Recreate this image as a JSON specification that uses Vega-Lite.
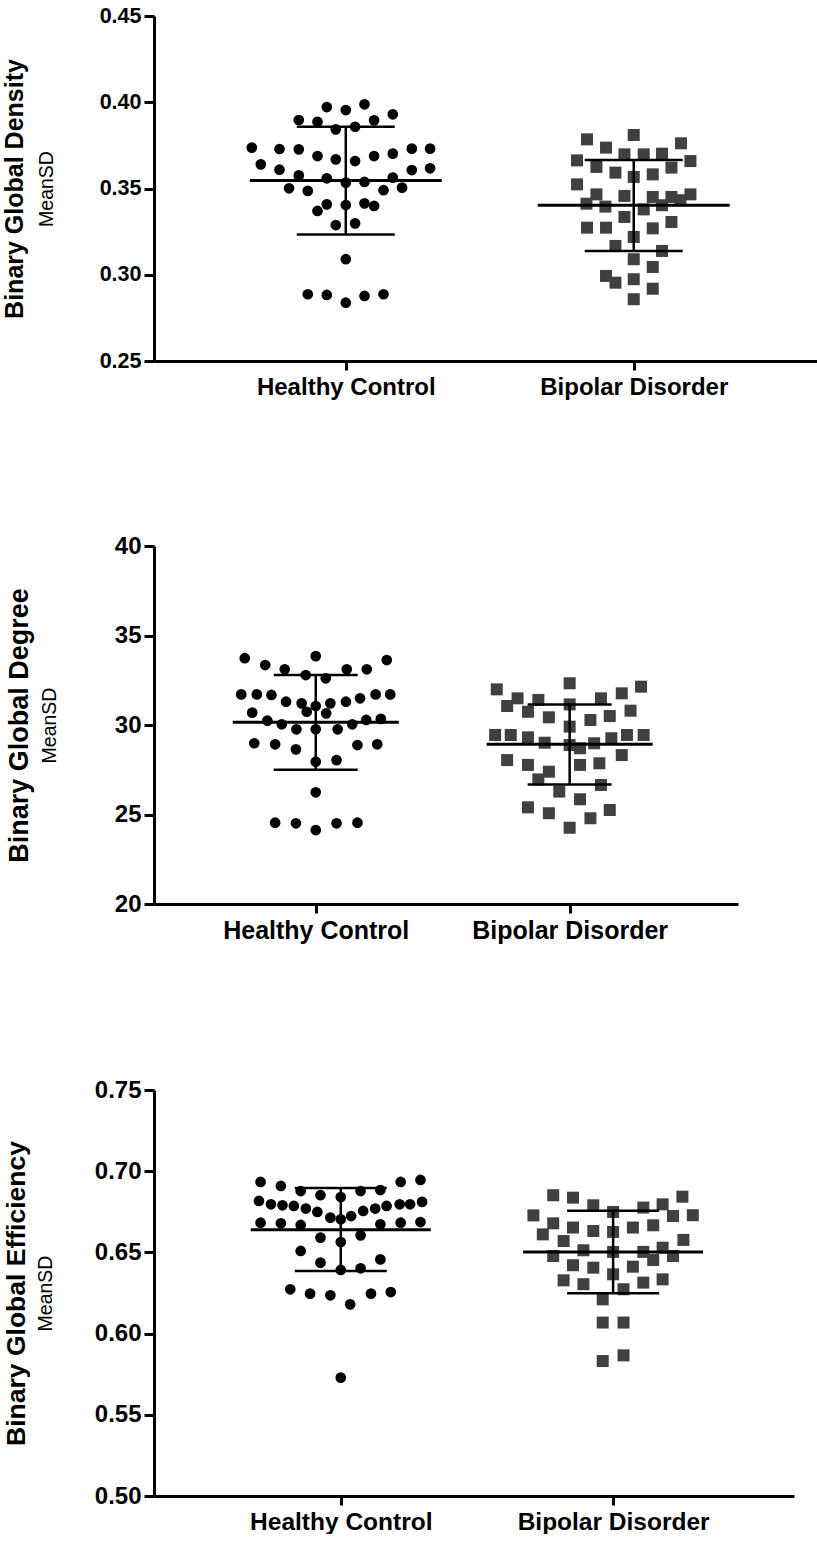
{
"$schema": "https://vega.github.io/schema/vega-lite/v6.json",
"padding": {"left": 2, "top": 5, "right": 0, "bottom": 0},
"config": {
 "view": {"stroke": null},
 "axis": {"domainColor": "black", "tickColor": "black", "labelColor": "black", "titleColor": "black", "grid": false,
  "labelFont": "Liberation Sans", "titleFont": "Liberation Sans", "labelFontWeight": "bold", "titleFontWeight": "bold",
  "domainWidth": 3, "tickWidth": 3, "labelLimit": 0, "titleLimit": 0}
},
"datasets": {
 "pts1": [
  {"group": "Healthy Control", "swarm": -19, "value": 0.3972},
  {"group": "Healthy Control", "swarm": 0, "value": 0.3955},
  {"group": "Healthy Control", "swarm": 18.7, "value": 0.3988},
  {"group": "Healthy Control", "swarm": -47, "value": 0.3897},
  {"group": "Healthy Control", "swarm": -28.3, "value": 0.3887},
  {"group": "Healthy Control", "swarm": 28.3, "value": 0.3895},
  {"group": "Healthy Control", "swarm": 47, "value": 0.3930},
  {"group": "Healthy Control", "swarm": -10, "value": 0.3843},
  {"group": "Healthy Control", "swarm": 9.3, "value": 0.3858},
  {"group": "Healthy Control", "swarm": -94, "value": 0.3737},
  {"group": "Healthy Control", "swarm": -66.3, "value": 0.3729},
  {"group": "Healthy Control", "swarm": -47, "value": 0.3727},
  {"group": "Healthy Control", "swarm": -28.3, "value": 0.3688},
  {"group": "Healthy Control", "swarm": -10, "value": 0.3669},
  {"group": "Healthy Control", "swarm": 9.3, "value": 0.3659},
  {"group": "Healthy Control", "swarm": 28.3, "value": 0.3688},
  {"group": "Healthy Control", "swarm": 47, "value": 0.3702},
  {"group": "Healthy Control", "swarm": 66, "value": 0.3731},
  {"group": "Healthy Control", "swarm": 84.3, "value": 0.3731},
  {"group": "Healthy Control", "swarm": -85, "value": 0.3640},
  {"group": "Healthy Control", "swarm": -66.3, "value": 0.3609},
  {"group": "Healthy Control", "swarm": -47, "value": 0.3576},
  {"group": "Healthy Control", "swarm": -19, "value": 0.3559},
  {"group": "Healthy Control", "swarm": 0, "value": 0.3534},
  {"group": "Healthy Control", "swarm": 18.7, "value": 0.3538},
  {"group": "Healthy Control", "swarm": 47, "value": 0.3563},
  {"group": "Healthy Control", "swarm": 66, "value": 0.3607},
  {"group": "Healthy Control", "swarm": 84.3, "value": 0.3617},
  {"group": "Healthy Control", "swarm": -56.7, "value": 0.3501},
  {"group": "Healthy Control", "swarm": -38, "value": 0.3486},
  {"group": "Healthy Control", "swarm": 37.7, "value": 0.3490},
  {"group": "Healthy Control", "swarm": 56.3, "value": 0.3505},
  {"group": "Healthy Control", "swarm": -19, "value": 0.3408},
  {"group": "Healthy Control", "swarm": -28.3, "value": 0.3370},
  {"group": "Healthy Control", "swarm": 0, "value": 0.3404},
  {"group": "Healthy Control", "swarm": 18.7, "value": 0.3414},
  {"group": "Healthy Control", "swarm": 28.3, "value": 0.3399},
  {"group": "Healthy Control", "swarm": -10, "value": 0.3288},
  {"group": "Healthy Control", "swarm": 9.3, "value": 0.3298},
  {"group": "Healthy Control", "swarm": 0, "value": 0.3090},
  {"group": "Healthy Control", "swarm": -38, "value": 0.2887},
  {"group": "Healthy Control", "swarm": -19, "value": 0.2883},
  {"group": "Healthy Control", "swarm": 0, "value": 0.2838},
  {"group": "Healthy Control", "swarm": 18.7, "value": 0.2877},
  {"group": "Healthy Control", "swarm": 37.7, "value": 0.2887},
  {"group": "Bipolar Disorder", "swarm": -46.7, "value": 0.3785},
  {"group": "Bipolar Disorder", "swarm": 0, "value": 0.3810},
  {"group": "Bipolar Disorder", "swarm": 47.3, "value": 0.3762},
  {"group": "Bipolar Disorder", "swarm": -27.7, "value": 0.3737},
  {"group": "Bipolar Disorder", "swarm": -56.7, "value": 0.3663},
  {"group": "Bipolar Disorder", "swarm": -9.3, "value": 0.3698},
  {"group": "Bipolar Disorder", "swarm": 10, "value": 0.3698},
  {"group": "Bipolar Disorder", "swarm": 28.3, "value": 0.3702},
  {"group": "Bipolar Disorder", "swarm": 56.7, "value": 0.3659},
  {"group": "Bipolar Disorder", "swarm": -37.3, "value": 0.3625},
  {"group": "Bipolar Disorder", "swarm": -18.3, "value": 0.3592},
  {"group": "Bipolar Disorder", "swarm": 0, "value": 0.3567},
  {"group": "Bipolar Disorder", "swarm": 19, "value": 0.3582},
  {"group": "Bipolar Disorder", "swarm": 37.7, "value": 0.3621},
  {"group": "Bipolar Disorder", "swarm": -56.7, "value": 0.3524},
  {"group": "Bipolar Disorder", "swarm": -37.3, "value": 0.3466},
  {"group": "Bipolar Disorder", "swarm": -9.3, "value": 0.3457},
  {"group": "Bipolar Disorder", "swarm": 19, "value": 0.3451},
  {"group": "Bipolar Disorder", "swarm": 37.7, "value": 0.3451},
  {"group": "Bipolar Disorder", "swarm": 56.7, "value": 0.3466},
  {"group": "Bipolar Disorder", "swarm": -47.3, "value": 0.3412},
  {"group": "Bipolar Disorder", "swarm": -28.3, "value": 0.3395},
  {"group": "Bipolar Disorder", "swarm": 10, "value": 0.3379},
  {"group": "Bipolar Disorder", "swarm": 28.3, "value": 0.3403},
  {"group": "Bipolar Disorder", "swarm": 46.7, "value": 0.3432},
  {"group": "Bipolar Disorder", "swarm": -9.3, "value": 0.3335},
  {"group": "Bipolar Disorder", "swarm": -46.7, "value": 0.3273},
  {"group": "Bipolar Disorder", "swarm": -27.7, "value": 0.3273},
  {"group": "Bipolar Disorder", "swarm": 19, "value": 0.3269},
  {"group": "Bipolar Disorder", "swarm": 37.7, "value": 0.3306},
  {"group": "Bipolar Disorder", "swarm": 0, "value": 0.3219},
  {"group": "Bipolar Disorder", "swarm": -18.3, "value": 0.3167},
  {"group": "Bipolar Disorder", "swarm": 28.3, "value": 0.3138},
  {"group": "Bipolar Disorder", "swarm": 0, "value": 0.3090},
  {"group": "Bipolar Disorder", "swarm": 19, "value": 0.3045},
  {"group": "Bipolar Disorder", "swarm": -27.7, "value": 0.2993},
  {"group": "Bipolar Disorder", "swarm": -18.3, "value": 0.2954},
  {"group": "Bipolar Disorder", "swarm": 0, "value": 0.2974},
  {"group": "Bipolar Disorder", "swarm": 19, "value": 0.2919},
  {"group": "Bipolar Disorder", "swarm": 0, "value": 0.2858}
 ],
 "st1": [
  {"group": "Healthy Control", "mean": 0.3547, "lo": 0.3234, "hi": 0.3858},
  {"group": "Bipolar Disorder", "mean": 0.3403, "lo": 0.3138, "hi": 0.3665}
 ],
 "pts2": [
  {"group": "Healthy Control", "swarm": -71, "value": 33.73},
  {"group": "Healthy Control", "swarm": -50.5, "value": 33.35},
  {"group": "Healthy Control", "swarm": -31, "value": 33.11},
  {"group": "Healthy Control", "swarm": 0, "value": 33.85},
  {"group": "Healthy Control", "swarm": 31, "value": 33.11},
  {"group": "Healthy Control", "swarm": 51, "value": 33.11},
  {"group": "Healthy Control", "swarm": 71, "value": 33.63},
  {"group": "Healthy Control", "swarm": -10, "value": 32.79},
  {"group": "Healthy Control", "swarm": 10, "value": 32.61},
  {"group": "Healthy Control", "swarm": -74.5, "value": 31.71},
  {"group": "Healthy Control", "swarm": -58.9, "value": 31.71},
  {"group": "Healthy Control", "swarm": -44.3, "value": 31.68},
  {"group": "Healthy Control", "swarm": -29.7, "value": 31.30},
  {"group": "Healthy Control", "swarm": -14.1, "value": 31.21},
  {"group": "Healthy Control", "swarm": 14.6, "value": 31.21},
  {"group": "Healthy Control", "swarm": 30.2, "value": 31.30},
  {"group": "Healthy Control", "swarm": 44.3, "value": 31.49},
  {"group": "Healthy Control", "swarm": 59.9, "value": 31.71},
  {"group": "Healthy Control", "swarm": 74.5, "value": 31.71},
  {"group": "Healthy Control", "swarm": -63.5, "value": 30.69},
  {"group": "Healthy Control", "swarm": -9, "value": 30.74},
  {"group": "Healthy Control", "swarm": 10.4, "value": 30.65},
  {"group": "Healthy Control", "swarm": 0, "value": 31.06},
  {"group": "Healthy Control", "swarm": -48.4, "value": 30.24},
  {"group": "Healthy Control", "swarm": 50.5, "value": 30.28},
  {"group": "Healthy Control", "swarm": 65.1, "value": 30.34},
  {"group": "Healthy Control", "swarm": -33.9, "value": 30.04},
  {"group": "Healthy Control", "swarm": 36.5, "value": 30.04},
  {"group": "Healthy Control", "swarm": -19.3, "value": 29.76},
  {"group": "Healthy Control", "swarm": 0, "value": 29.76},
  {"group": "Healthy Control", "swarm": 21.9, "value": 29.76},
  {"group": "Healthy Control", "swarm": -61.5, "value": 28.98},
  {"group": "Healthy Control", "swarm": -40.6, "value": 28.92},
  {"group": "Healthy Control", "swarm": -19.8, "value": 28.64},
  {"group": "Healthy Control", "swarm": 41.7, "value": 28.88},
  {"group": "Healthy Control", "swarm": 61.5, "value": 28.92},
  {"group": "Healthy Control", "swarm": 0, "value": 27.95},
  {"group": "Healthy Control", "swarm": 20.8, "value": 28.04},
  {"group": "Healthy Control", "swarm": 0, "value": 26.24},
  {"group": "Healthy Control", "swarm": -40.6, "value": 24.54},
  {"group": "Healthy Control", "swarm": -19.8, "value": 24.51},
  {"group": "Healthy Control", "swarm": 0, "value": 24.13},
  {"group": "Healthy Control", "swarm": 20.8, "value": 24.51},
  {"group": "Healthy Control", "swarm": 41.7, "value": 24.54},
  {"group": "Bipolar Disorder", "swarm": -72.9, "value": 31.99},
  {"group": "Bipolar Disorder", "swarm": -52.1, "value": 31.49},
  {"group": "Bipolar Disorder", "swarm": -31.3, "value": 31.40},
  {"group": "Bipolar Disorder", "swarm": 0, "value": 32.33},
  {"group": "Bipolar Disorder", "swarm": 31.3, "value": 31.49},
  {"group": "Bipolar Disorder", "swarm": 52.1, "value": 31.77},
  {"group": "Bipolar Disorder", "swarm": 71.4, "value": 32.14},
  {"group": "Bipolar Disorder", "swarm": -62.5, "value": 31.06},
  {"group": "Bipolar Disorder", "swarm": -41.7, "value": 30.74},
  {"group": "Bipolar Disorder", "swarm": -20.8, "value": 30.43},
  {"group": "Bipolar Disorder", "swarm": 0, "value": 31.15},
  {"group": "Bipolar Disorder", "swarm": 20.8, "value": 30.28},
  {"group": "Bipolar Disorder", "swarm": 40.1, "value": 30.50},
  {"group": "Bipolar Disorder", "swarm": 60.9, "value": 30.80},
  {"group": "Bipolar Disorder", "swarm": -74.5, "value": 29.44},
  {"group": "Bipolar Disorder", "swarm": -58.9, "value": 29.44},
  {"group": "Bipolar Disorder", "swarm": -41.7, "value": 29.31},
  {"group": "Bipolar Disorder", "swarm": -25, "value": 29.01},
  {"group": "Bipolar Disorder", "swarm": 0, "value": 29.91},
  {"group": "Bipolar Disorder", "swarm": 0, "value": 28.88},
  {"group": "Bipolar Disorder", "swarm": 10.4, "value": 28.70},
  {"group": "Bipolar Disorder", "swarm": 24.5, "value": 28.98},
  {"group": "Bipolar Disorder", "swarm": 41.7, "value": 29.26},
  {"group": "Bipolar Disorder", "swarm": 57.3, "value": 29.44},
  {"group": "Bipolar Disorder", "swarm": 74, "value": 29.44},
  {"group": "Bipolar Disorder", "swarm": -62.5, "value": 28.04},
  {"group": "Bipolar Disorder", "swarm": -41.7, "value": 27.77},
  {"group": "Bipolar Disorder", "swarm": -20.8, "value": 27.39},
  {"group": "Bipolar Disorder", "swarm": 10.4, "value": 27.77},
  {"group": "Bipolar Disorder", "swarm": 29.7, "value": 27.86},
  {"group": "Bipolar Disorder", "swarm": 52.1, "value": 28.32},
  {"group": "Bipolar Disorder", "swarm": -31.3, "value": 26.96},
  {"group": "Bipolar Disorder", "swarm": -10.4, "value": 26.28},
  {"group": "Bipolar Disorder", "swarm": 31.3, "value": 26.65},
  {"group": "Bipolar Disorder", "swarm": -41.7, "value": 25.40},
  {"group": "Bipolar Disorder", "swarm": -20.8, "value": 25.07},
  {"group": "Bipolar Disorder", "swarm": 10.4, "value": 25.85},
  {"group": "Bipolar Disorder", "swarm": 20.8, "value": 24.79},
  {"group": "Bipolar Disorder", "swarm": 40.1, "value": 25.25},
  {"group": "Bipolar Disorder", "swarm": 0, "value": 24.26}
 ],
 "st2": [
  {"group": "Healthy Control", "mean": 30.15, "lo": 27.50, "hi": 32.80},
  {"group": "Bipolar Disorder", "mean": 28.93, "lo": 26.67, "hi": 31.15}
 ],
 "pts3": [
  {"group": "Healthy Control", "swarm": -80.2, "value": 0.6934},
  {"group": "Healthy Control", "swarm": -59.9, "value": 0.6909},
  {"group": "Healthy Control", "swarm": -40.1, "value": 0.6878},
  {"group": "Healthy Control", "swarm": -20.3, "value": 0.6852},
  {"group": "Healthy Control", "swarm": 0, "value": 0.6841},
  {"group": "Healthy Control", "swarm": 19.8, "value": 0.6878},
  {"group": "Healthy Control", "swarm": 39.6, "value": 0.6884},
  {"group": "Healthy Control", "swarm": 59.9, "value": 0.6934},
  {"group": "Healthy Control", "swarm": 79.7, "value": 0.6946},
  {"group": "Healthy Control", "swarm": -81.8, "value": 0.6817},
  {"group": "Healthy Control", "swarm": -69.8, "value": 0.6796},
  {"group": "Healthy Control", "swarm": -58.3, "value": 0.6790},
  {"group": "Healthy Control", "swarm": -46.9, "value": 0.6786},
  {"group": "Healthy Control", "swarm": -34.9, "value": 0.6770},
  {"group": "Healthy Control", "swarm": -23.4, "value": 0.6749},
  {"group": "Healthy Control", "swarm": -10.4, "value": 0.6714},
  {"group": "Healthy Control", "swarm": 0, "value": 0.6704},
  {"group": "Healthy Control", "swarm": 10.4, "value": 0.6724},
  {"group": "Healthy Control", "swarm": 22.4, "value": 0.6755},
  {"group": "Healthy Control", "swarm": 34.4, "value": 0.6770},
  {"group": "Healthy Control", "swarm": 45.8, "value": 0.6786},
  {"group": "Healthy Control", "swarm": 58.9, "value": 0.6796},
  {"group": "Healthy Control", "swarm": 69.3, "value": 0.6796},
  {"group": "Healthy Control", "swarm": 81.3, "value": 0.6811},
  {"group": "Healthy Control", "swarm": -80.2, "value": 0.6683},
  {"group": "Healthy Control", "swarm": -59.9, "value": 0.6679},
  {"group": "Healthy Control", "swarm": -40.1, "value": 0.6669},
  {"group": "Healthy Control", "swarm": 39.6, "value": 0.6673},
  {"group": "Healthy Control", "swarm": 59.9, "value": 0.6683},
  {"group": "Healthy Control", "swarm": 79.7, "value": 0.6687},
  {"group": "Healthy Control", "swarm": -20.3, "value": 0.6591},
  {"group": "Healthy Control", "swarm": 0, "value": 0.6564},
  {"group": "Healthy Control", "swarm": 19.8, "value": 0.6605},
  {"group": "Healthy Control", "swarm": -40.1, "value": 0.6509},
  {"group": "Healthy Control", "swarm": 39.6, "value": 0.6457},
  {"group": "Healthy Control", "swarm": -20.3, "value": 0.6437},
  {"group": "Healthy Control", "swarm": 0, "value": 0.6392},
  {"group": "Healthy Control", "swarm": 19.8, "value": 0.6402},
  {"group": "Healthy Control", "swarm": -50.5, "value": 0.6273},
  {"group": "Healthy Control", "swarm": -30.7, "value": 0.6246},
  {"group": "Healthy Control", "swarm": -10.4, "value": 0.6236},
  {"group": "Healthy Control", "swarm": 9.4, "value": 0.6180},
  {"group": "Healthy Control", "swarm": 30.2, "value": 0.6246},
  {"group": "Healthy Control", "swarm": 50, "value": 0.6256},
  {"group": "Healthy Control", "swarm": 0, "value": 0.5729},
  {"group": "Bipolar Disorder", "swarm": -59.9, "value": 0.6852},
  {"group": "Bipolar Disorder", "swarm": -40.1, "value": 0.6837},
  {"group": "Bipolar Disorder", "swarm": -19.8, "value": 0.6790},
  {"group": "Bipolar Disorder", "swarm": 0, "value": 0.6749},
  {"group": "Bipolar Disorder", "swarm": 30.2, "value": 0.6776},
  {"group": "Bipolar Disorder", "swarm": 49.5, "value": 0.6796},
  {"group": "Bipolar Disorder", "swarm": 69.3, "value": 0.6843},
  {"group": "Bipolar Disorder", "swarm": -79.7, "value": 0.6728},
  {"group": "Bipolar Disorder", "swarm": 59.9, "value": 0.6724},
  {"group": "Bipolar Disorder", "swarm": 79.7, "value": 0.6729},
  {"group": "Bipolar Disorder", "swarm": -59.9, "value": 0.6679},
  {"group": "Bipolar Disorder", "swarm": -40.1, "value": 0.6653},
  {"group": "Bipolar Disorder", "swarm": -19.8, "value": 0.6632},
  {"group": "Bipolar Disorder", "swarm": 0, "value": 0.6626},
  {"group": "Bipolar Disorder", "swarm": 19.8, "value": 0.6653},
  {"group": "Bipolar Disorder", "swarm": 40.1, "value": 0.6667},
  {"group": "Bipolar Disorder", "swarm": -70.3, "value": 0.6611},
  {"group": "Bipolar Disorder", "swarm": -49.5, "value": 0.6570},
  {"group": "Bipolar Disorder", "swarm": 70.3, "value": 0.6577},
  {"group": "Bipolar Disorder", "swarm": -59.9, "value": 0.6478},
  {"group": "Bipolar Disorder", "swarm": -29.7, "value": 0.6513},
  {"group": "Bipolar Disorder", "swarm": 0, "value": 0.6503},
  {"group": "Bipolar Disorder", "swarm": 30.2, "value": 0.6503},
  {"group": "Bipolar Disorder", "swarm": 49.5, "value": 0.6529},
  {"group": "Bipolar Disorder", "swarm": 59.9, "value": 0.6478},
  {"group": "Bipolar Disorder", "swarm": 40.1, "value": 0.6453},
  {"group": "Bipolar Disorder", "swarm": -40.1, "value": 0.6421},
  {"group": "Bipolar Disorder", "swarm": -19.8, "value": 0.6406},
  {"group": "Bipolar Disorder", "swarm": 0, "value": 0.6365},
  {"group": "Bipolar Disorder", "swarm": 19.8, "value": 0.6412},
  {"group": "Bipolar Disorder", "swarm": -49.5, "value": 0.6328},
  {"group": "Bipolar Disorder", "swarm": -29.7, "value": 0.6304},
  {"group": "Bipolar Disorder", "swarm": 30.2, "value": 0.6314},
  {"group": "Bipolar Disorder", "swarm": 49.5, "value": 0.6334},
  {"group": "Bipolar Disorder", "swarm": 10.4, "value": 0.6273},
  {"group": "Bipolar Disorder", "swarm": -10.4, "value": 0.6211},
  {"group": "Bipolar Disorder", "swarm": -10.4, "value": 0.6068},
  {"group": "Bipolar Disorder", "swarm": 10.4, "value": 0.6068},
  {"group": "Bipolar Disorder", "swarm": -10.4, "value": 0.5831},
  {"group": "Bipolar Disorder", "swarm": 10.4, "value": 0.5866}
 ],
 "st3": [
  {"group": "Healthy Control", "mean": 0.6640, "lo": 0.6385, "hi": 0.6897},
  {"group": "Bipolar Disorder", "mean": 0.6503, "lo": 0.6249, "hi": 0.6757}
 ]
},
"concat": [
 {
  "width": 664, "height": 345,
  "layer": [
   {"data": {"name": "pts1"},
    "mark": {"type": "point", "filled": true, "opacity": 1, "strokeWidth": 0},
    "encoding": {
     "x": {"field": "group", "type": "nominal", "sort": null, "scale": {"type": "point", "domain": ["Healthy Control", "Bipolar Disorder"], "padding": 0.653, "align": 0.51},
       "axis": {"title": null, "labelAngle": 0, "labelFontSize": 24, "labelPadding": 5, "tickSize": 9}},
     "xOffset": {"field": "swarm", "type": "quantitative", "scale": {"domain": [-100, 100], "range": [-100, 100]}},
     "y": {"field": "value", "type": "quantitative", "scale": {"domain": [0.25, 0.45], "nice": false, "zero": false},
       "axis": {"title": "Binary Global Density", "values": [0.25, 0.3, 0.35, 0.4, 0.45], "format": ".2f", "labelFontSize": 21.5, "labelPadding": 3, "tickSize": 10, "titleFontSize": 25, "titlePadding": 72}},
     "shape": {"field": "group", "type": "nominal", "scale": {"domain": ["Healthy Control", "Bipolar Disorder"], "range": ["circle", "square"]}, "legend": null},
     "color": {"field": "group", "type": "nominal", "scale": {"domain": ["Healthy Control", "Bipolar Disorder"], "range": ["#000000", "#404040"]}, "legend": null},
     "size": {"field": "group", "type": "nominal", "scale": {"domain": ["Healthy Control", "Bipolar Disorder"], "range": [115, 144]}, "legend": null}
    }},
   {"data": {"name": "st1"},
    "mark": {"type": "tick", "size": 192, "thickness": 3, "color": "black", "opacity": 1},
    "encoding": {"x": {"field": "group", "type": "nominal", "sort": null}, "y": {"field": "mean", "type": "quantitative", "scale": {"domain": [0.25, 0.45], "nice": false, "zero": false}, "axis": null}}},
   {"data": {"name": "st1"},
    "mark": {"type": "tick", "size": 98, "thickness": 2.5, "color": "black", "opacity": 1},
    "encoding": {"x": {"field": "group", "type": "nominal", "sort": null}, "y": {"field": "lo", "type": "quantitative", "scale": {"domain": [0.25, 0.45], "nice": false, "zero": false}, "axis": null}}},
   {"data": {"name": "st1"},
    "mark": {"type": "tick", "size": 98, "thickness": 2.5, "color": "black", "opacity": 1},
    "encoding": {"x": {"field": "group", "type": "nominal", "sort": null}, "y": {"field": "hi", "type": "quantitative", "scale": {"domain": [0.25, 0.45], "nice": false, "zero": false}, "axis": null}}},
   {"data": {"name": "st1"},
    "mark": {"type": "rule", "strokeWidth": 2.5, "color": "black"},
    "encoding": {"x": {"field": "group", "type": "nominal", "sort": null},
     "y": {"field": "lo", "type": "quantitative", "scale": {"domain": [0.25, 0.45], "nice": false, "zero": false},
       "axis": {"orient": "left", "title": "MeanSD", "labels": false, "ticks": false, "domain": false, "tickSize": 0, "labelPadding": 0, "titleFontSize": 19.5, "titleFontWeight": "normal", "titlePadding": 98}},
     "y2": {"field": "hi"}}}
  ],
  "resolve": {"axis": {"y": "independent"}}
 },
 {
  "width": 584, "height": 358,
  "layer": [
   {"data": {"name": "pts2"},
    "mark": {"type": "point", "filled": true, "opacity": 1, "strokeWidth": 0},
    "encoding": {
     "x": {"field": "group", "type": "nominal", "sort": null, "scale": {"type": "point", "domain": ["Healthy Control", "Bipolar Disorder"], "padding": 0.65, "align": 0.49},
       "axis": {"title": null, "labelAngle": 0, "labelFontSize": 25, "labelPadding": 5, "tickSize": 9}},
     "xOffset": {"field": "swarm", "type": "quantitative", "scale": {"domain": [-100, 100], "range": [-100, 100]}},
     "y": {"field": "value", "type": "quantitative", "scale": {"domain": [20, 40], "nice": false, "zero": false},
       "axis": {"title": "Binary Global Degree", "values": [20, 25, 30, 35, 40], "labelFontSize": 24, "labelPadding": 3, "tickSize": 10, "titleFontSize": 27, "titlePadding": 81}},
     "shape": {"field": "group", "type": "nominal", "scale": {"domain": ["Healthy Control", "Bipolar Disorder"], "range": ["circle", "square"]}, "legend": null},
     "color": {"field": "group", "type": "nominal", "scale": {"domain": ["Healthy Control", "Bipolar Disorder"], "range": ["#000000", "#404040"]}, "legend": null},
     "size": {"field": "group", "type": "nominal", "scale": {"domain": ["Healthy Control", "Bipolar Disorder"], "range": [125, 160]}, "legend": null}
    }},
   {"data": {"name": "st2"},
    "mark": {"type": "tick", "size": 166, "thickness": 3, "color": "black", "opacity": 1},
    "encoding": {"x": {"field": "group", "type": "nominal", "sort": null}, "y": {"field": "mean", "type": "quantitative", "scale": {"domain": [20, 40], "nice": false, "zero": false}, "axis": null}}},
   {"data": {"name": "st2"},
    "mark": {"type": "tick", "size": 84, "thickness": 2.5, "color": "black", "opacity": 1},
    "encoding": {"x": {"field": "group", "type": "nominal", "sort": null}, "y": {"field": "lo", "type": "quantitative", "scale": {"domain": [20, 40], "nice": false, "zero": false}, "axis": null}}},
   {"data": {"name": "st2"},
    "mark": {"type": "tick", "size": 84, "thickness": 2.5, "color": "black", "opacity": 1},
    "encoding": {"x": {"field": "group", "type": "nominal", "sort": null}, "y": {"field": "hi", "type": "quantitative", "scale": {"domain": [20, 40], "nice": false, "zero": false}, "axis": null}}},
   {"data": {"name": "st2"},
    "mark": {"type": "rule", "strokeWidth": 2.5, "color": "black"},
    "encoding": {"x": {"field": "group", "type": "nominal", "sort": null},
     "y": {"field": "lo", "type": "quantitative", "scale": {"domain": [20, 40], "nice": false, "zero": false},
       "axis": {"orient": "left", "title": "MeanSD", "labels": false, "ticks": false, "domain": false, "tickSize": 0, "labelPadding": 0, "titleFontSize": 19.5, "titleFontWeight": "normal", "titlePadding": 95}},
     "y2": {"field": "hi"}}}
  ],
  "resolve": {"axis": {"y": "independent"}}
 },
 {
  "width": 640, "height": 406,
  "layer": [
   {"data": {"name": "pts3"},
    "mark": {"type": "point", "filled": true, "opacity": 1, "strokeWidth": 0},
    "encoding": {
     "x": {"field": "group", "type": "nominal", "sort": null, "scale": {"type": "point", "domain": ["Healthy Control", "Bipolar Disorder"], "padding": 0.675, "align": 0.508},
       "axis": {"title": null, "labelAngle": 0, "labelFontSize": 24.5, "labelPadding": 5, "tickSize": 9}},
     "xOffset": {"field": "swarm", "type": "quantitative", "scale": {"domain": [-100, 100], "range": [-100, 100]}},
     "y": {"field": "value", "type": "quantitative", "scale": {"domain": [0.5, 0.75], "nice": false, "zero": false},
       "axis": {"title": "Binary Global Efficiency", "values": [0.5, 0.55, 0.6, 0.65, 0.7, 0.75], "format": ".2f", "labelFontSize": 24, "labelPadding": 3, "tickSize": 10, "titleFontSize": 26.5, "titlePadding": 64}},
     "shape": {"field": "group", "type": "nominal", "scale": {"domain": ["Healthy Control", "Bipolar Disorder"], "range": ["circle", "square"]}, "legend": null},
     "color": {"field": "group", "type": "nominal", "scale": {"domain": ["Healthy Control", "Bipolar Disorder"], "range": ["#000000", "#404040"]}, "legend": null},
     "size": {"field": "group", "type": "nominal", "scale": {"domain": ["Healthy Control", "Bipolar Disorder"], "range": [130, 160]}, "legend": null}
    }},
   {"data": {"name": "st3"},
    "mark": {"type": "tick", "size": 180, "thickness": 3, "color": "black", "opacity": 1},
    "encoding": {"x": {"field": "group", "type": "nominal", "sort": null}, "y": {"field": "mean", "type": "quantitative", "scale": {"domain": [0.5, 0.75], "nice": false, "zero": false}, "axis": null}}},
   {"data": {"name": "st3"},
    "mark": {"type": "tick", "size": 92, "thickness": 2.5, "color": "black", "opacity": 1},
    "encoding": {"x": {"field": "group", "type": "nominal", "sort": null}, "y": {"field": "lo", "type": "quantitative", "scale": {"domain": [0.5, 0.75], "nice": false, "zero": false}, "axis": null}}},
   {"data": {"name": "st3"},
    "mark": {"type": "tick", "size": 92, "thickness": 2.5, "color": "black", "opacity": 1},
    "encoding": {"x": {"field": "group", "type": "nominal", "sort": null}, "y": {"field": "hi", "type": "quantitative", "scale": {"domain": [0.5, 0.75], "nice": false, "zero": false}, "axis": null}}},
   {"data": {"name": "st3"},
    "mark": {"type": "rule", "strokeWidth": 2.5, "color": "black"},
    "encoding": {"x": {"field": "group", "type": "nominal", "sort": null},
     "y": {"field": "lo", "type": "quantitative", "scale": {"domain": [0.5, 0.75], "nice": false, "zero": false},
       "axis": {"orient": "left", "title": "MeanSD", "labels": false, "ticks": false, "domain": false, "tickSize": 0, "labelPadding": 0, "titleFontSize": 19.5, "titleFontWeight": "normal", "titlePadding": 99}},
     "y2": {"field": "hi"}}}
  ],
  "resolve": {"axis": {"y": "independent"}}
 }
],
"columns": 1,
"spacing": 135,
"align": "none"
}
